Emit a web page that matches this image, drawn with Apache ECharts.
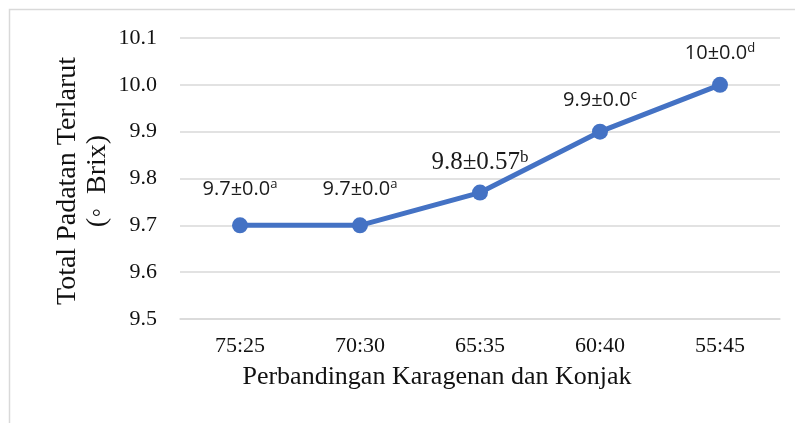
<!DOCTYPE html>
<html>
<head>
<meta charset="utf-8">
<script src="https://cdn.jsdelivr.net/npm/echarts@6/dist/echarts.min.js"></script>
<style>
	html, body { margin: 0; padding: 0; background: #fff; }
	#chart { width: 795px; height: 423px; }
</style>
</head>
<body>
<div id="chart"></div>
<script>
// data
var categories = [ '75:25', '70:30', '65:35', '60:40', '55:45' ];
var brixValues = [ 9.7, 9.7, 9.77, 9.9, 10.0 ];
var labelMain = [ '9.7±0.0', '9.7±0.0', '9.8±0.57', '9.9±0.0', '10±0.0' ];
var labelSup = [ 'a', 'a', 'b', 'c', 'd' ];
var labelSerif = [ false, false, true, false, false ];

var serif = '"Liberation Serif", "Times New Roman", serif';
var sans = '"Open Sans", "Liberation Sans", sans-serif';

function buildData() {
	var out = [];
	for (var i = 0; i < brixValues.length; i++) {
		var isSerif = labelSerif[i];
		var fam = isSerif ? serif : sans;
		out.push({
			value : brixValues[i],
			label : {
				distance : i < 2 ? 17 : (isSerif ? 9 : 12),
				rich : {
					m : { fontFamily : fam, fontSize : isSerif ? 25 : 20, color : '#1a1a1a' },
					s : { fontFamily : fam, fontSize : isSerif ? 17 : 13, color : '#1a1a1a', verticalAlign : 'top', padding : [ 0, 0, 10, 0 ] }
				}
			}
		});
	}
	return out;
}

var chart = echarts.init(document.getElementById('chart'));
var option = {
	animation : false,
	grid : { left : 180, right : 15, top : 38, bottom : 104 },
	xAxis : [ {
		type : 'category',
		data : categories,
		boundaryGap : true,
		axisLine : { lineStyle : { color : '#d9d9d9', width : 1.5 } },
		axisTick : { length : 6, lineStyle : { color : '#d9d9d9', width : 1.5 } },
		axisLabel : { fontFamily : serif, fontSize : 22, color : '#111', margin : 16 }
	}, {
		// 类别中心的小刻度
		type : 'category',
		data : categories,
		position : 'bottom',
		boundaryGap : true,
		axisLine : { show : false },
		axisTick : { alignWithLabel : true, length : 6, lineStyle : { color : '#d9d9d9', width : 1.5 } },
		axisLabel : { show : false }
	} ],
	yAxis : {
		type : 'value',
		min : 9.5,
		max : 10.1,
		interval : 0.1,
		axisLine : { show : false },
		axisTick : { show : false },
		splitLine : { lineStyle : { color : '#d9d9d9', width : 1.5 } },
		axisLabel : {
			fontFamily : serif, fontSize : 22, color : '#111', margin : 23,
			formatter : function(v) { return v.toFixed(1); }
		}
	},
	series : [ {
		type : 'line',
		data : buildData(),
		symbol : 'circle',
		symbolSize : 16,
		lineStyle : { color : '#4472C4', width : 5 },
		itemStyle : { color : '#4472C4' },
		label : {
			show : true,
			position : 'top',
			formatter : function(p) {
				return '{m|' + labelMain[p.dataIndex] + '}{s|' + labelSup[p.dataIndex] + '}';
			}
		}
	} ],
	graphic : [ {
		type : 'rect',
		shape : { x : 9.5, y : 9.5, width : 800, height : 430 },
		style : { fill : 'none', stroke : '#d9d9d9', lineWidth : 1.5 },
		silent : true
	}, {
		type : 'text',
		x : 68, y : 181, rotation : Math.PI / 2,
		style : { text : 'Total Padatan Terlarut', font : '28px ' + serif, fill : '#111', align : 'center', verticalAlign : 'middle' }
	}, {
		type : 'text',
		x : 98, y : 181, rotation : Math.PI / 2,
		style : { text : '(◦  Brix)', font : '28px ' + serif, fill : '#111', align : 'center', verticalAlign : 'middle' }
	}, {
		type : 'text',
		x : 437, y : 377,
		style : { text : 'Perbandingan Karagenan dan Konjak', font : '26px ' + serif, fill : '#111', align : 'center', verticalAlign : 'middle' }
	} ]
};
chart.setOption(option);
</script>
</body>
</html>
